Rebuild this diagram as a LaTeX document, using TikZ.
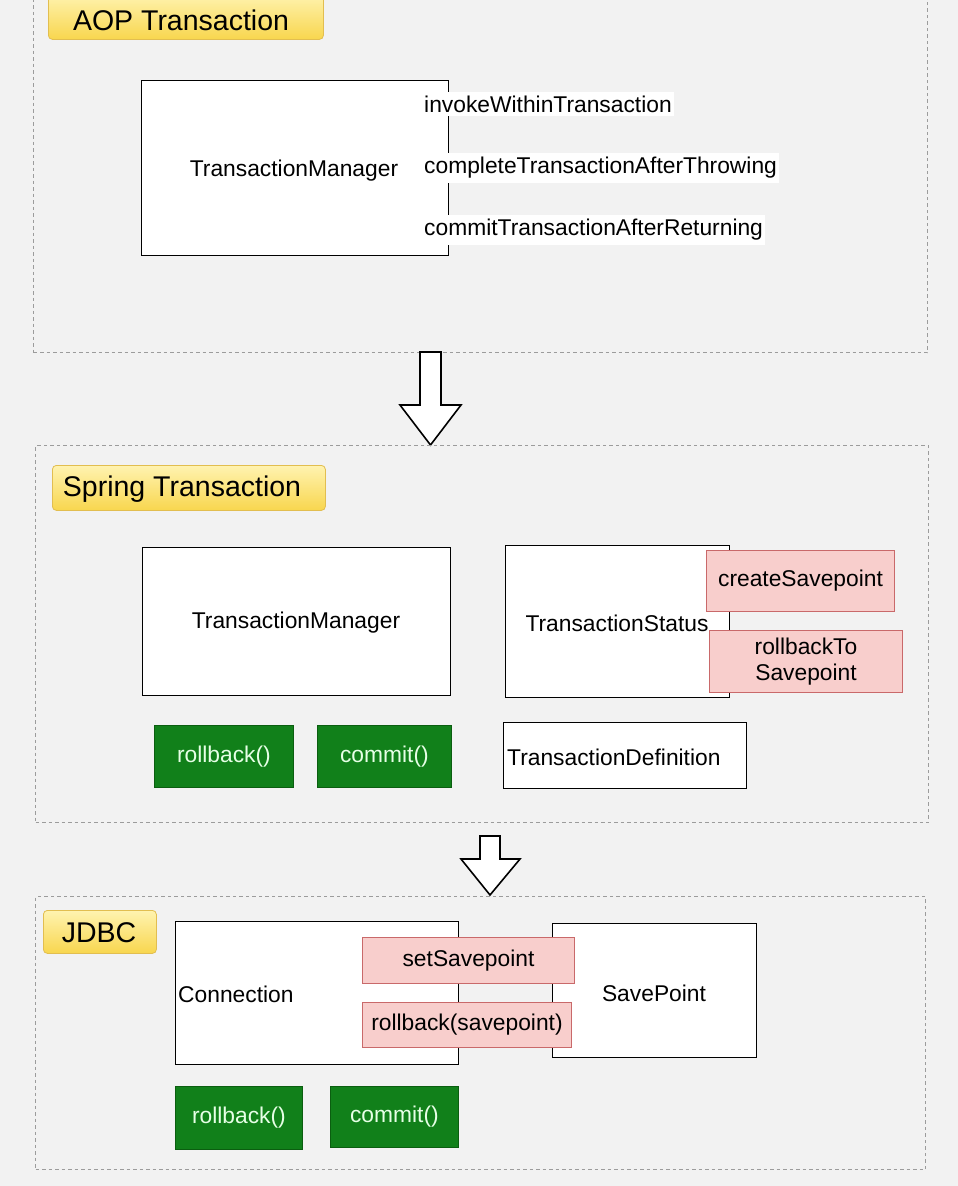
\documentclass[tikz,border=0pt]{standalone}
\usepackage{fontspec}
\setmainfont{Liberation Sans}
\definecolor{pagebg}{HTML}{F2F2F2}
\definecolor{regionline}{HTML}{9C9C9C}
\definecolor{labtop}{HTML}{FFF3B0}
\definecolor{labbot}{HTML}{F8D64E}
\definecolor{labline}{HTML}{E2BE50}
\definecolor{gfill}{HTML}{11801A}
\definecolor{gline}{HTML}{0B5E10}
\definecolor{gtext}{HTML}{E6FFE6}
\definecolor{pfill}{HTML}{F8CECC}
\definecolor{pline}{HTML}{C9696A}
\newcommand{\mainfs}{\fontsize{22.8}{26}\selectfont}
\newcommand{\labfs}{\fontsize{28.5}{31}\selectfont}
\begin{document}
\begin{tikzpicture}[x=1pt,y=-1pt,
  region/.style={draw=regionline, line width=1.4pt, dash pattern=on 3.5pt off 3pt},
  sectionlabel/.style={draw=labline, line width=0.8pt, rounded corners=4pt, top color=labtop, bottom color=labbot, anchor=north west, inner sep=0pt, font=\labfs},
  box/.style={draw=black, line width=1.4pt, fill=white, anchor=north west, inner sep=0pt, font=\mainfs},
  method/.style={fill=white, anchor=west, inner xsep=2pt, inner ysep=4pt, font=\mainfs},
  greenbtn/.style={draw=gline, line width=0.8pt, fill=gfill, anchor=north west, inner sep=0pt, font=\mainfs, text=gtext},
  pinkbtn/.style={draw=pline, line width=1pt, fill=pfill, anchor=north west, inner sep=0pt, font=\mainfs, align=center},
  plain/.style={inner sep=0pt, font=\mainfs},
  blockarrow/.style={draw=black, line width=1.6pt, fill=white, line join=miter}
]
\useasboundingbox (0,0) rectangle (958,1186);
\clip (0,0) rectangle (958,1186);
\fill[pagebg] (0,0) rectangle (958,1186);

% ---------- AOP Transaction ----------
\node[region, anchor=north west, minimum width=894pt, minimum height=362pt, inner sep=0pt] (aop) at (33,-10) {};
\node[sectionlabel, minimum width=275pt, minimum height=46pt] (aoplab) at (48,-7) {};
\node[plain, font=\labfs, anchor=center] (aoptxt) at (181,20) {AOP Transaction};

\node[box, minimum width=307pt, minimum height=175pt] (tm1) at (141,80) {};
\node[plain] (tm1txt) at (294,171) {TransactionManager};
\node[method] (m1) at (422,104) {invokeWithinTransaction};
\node[method] (m2) at (422,168) {completeTransactionAfterThrowing};
\node[method] (m3) at (422,230) {commitTransactionAfterReturning};

% ---------- arrow 1 ----------
\draw[blockarrow] (420,352) -- (441,352) -- (441,405) -- (461,405) -- (430.5,445) -- (400,405) -- (420,405) -- cycle;

% ---------- Spring Transaction ----------
\node[region, anchor=north west, minimum width=893pt, minimum height=377pt, inner sep=0pt] (spring) at (35,445) {};
\node[sectionlabel, minimum width=273pt, minimum height=45pt] (springlab) at (52,465) {};
\node[plain, font=\labfs] (springtxt) at (182,489) {Spring Transaction};

\node[box, minimum width=308pt, minimum height=148pt] (tm2) at (142,547) {};
\node[plain] (tm2txt) at (296,623) {TransactionManager};
\node[greenbtn, minimum width=139pt, minimum height=62pt] (rb1) at (154,725) {rollback()};
\node[greenbtn, minimum width=134pt, minimum height=62pt] (cm1) at (317,725) {commit()};

\node[box, minimum width=224pt, minimum height=152pt] (ts) at (505,545) {};
\node[plain] (tstxt) at (617,623) {TransactionStatus};
\node[pinkbtn, minimum width=188pt, minimum height=61pt] (cs) at (706,550) {createSavepoint};
\node[pinkbtn, minimum width=193pt, minimum height=62pt, font=\fontsize{22.8}{26}\selectfont] (rts) at (709,630) {rollbackTo\\Savepoint};

\node[box, minimum width=243pt, minimum height=66pt] (td) at (503,722) {};
\node[plain, anchor=west] (tdtxt) at (507,757) {TransactionDefinition};

% ---------- arrow 2 ----------
\draw[blockarrow] (480,836) -- (500,836) -- (500,859) -- (520,859) -- (490,895) -- (461,859) -- (480,859) -- cycle;

% ---------- JDBC ----------
\node[region, anchor=north west, minimum width=890pt, minimum height=273pt, inner sep=0pt] (jdbc) at (35,896) {};
\node[sectionlabel, minimum width=113pt, minimum height=43pt] (jdbclab) at (43,910) {};
\node[plain, font=\labfs] (jdbctxt) at (99,933) {JDBC};

\node[box, minimum width=283pt, minimum height=143pt] (conn) at (175,921) {};
\node[plain, anchor=west] (conntxt) at (178,994) {Connection};
\node[box, minimum width=204pt, minimum height=134pt] (sp) at (552,923) {};
\node[plain] (sptxt) at (654,993) {SavePoint};
\node[pinkbtn, minimum width=212pt, minimum height=46pt] (ssp) at (362,937) {setSavepoint};
\node[pinkbtn, minimum width=209pt, minimum height=45pt] (rbs) at (362,1002) {rollback(savepoint)};

\node[greenbtn, minimum width=127pt, minimum height=63pt] (rb2) at (175,1086) {rollback()};
\node[greenbtn, minimum width=128pt, minimum height=61pt] (cm2) at (330,1086) {commit()};
\end{tikzpicture}
\end{document}
